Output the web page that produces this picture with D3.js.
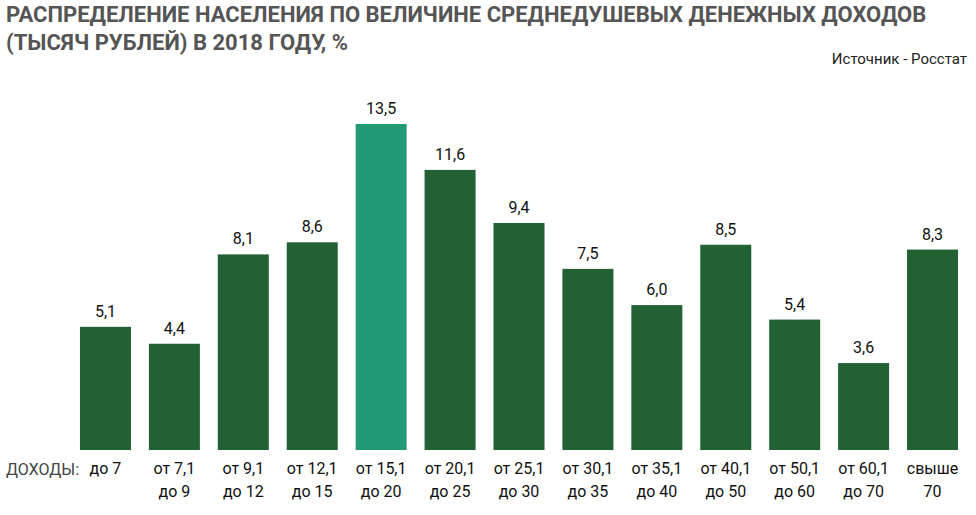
<!DOCTYPE html>
<html>
<head>
<meta charset="utf-8">
<script src="https://cdn.jsdelivr.net/npm/d3@7"></script>
<style>
body { margin: 0; background: #fff; }
text { font-family: "Liberation Sans Narrow", "Roboto", sans-serif; }
</style>
</head>
<body>
<div id="chart"></div>
<script>
var svgWidth = 976;
var svgHeight = 515;

// Data
var line1 = ["до 7", "от 7,1", "от 9,1", "от 12,1", "от 15,1", "от 20,1", "от 25,1", "от 30,1", "от 35,1", "от 40,1", "от 50,1", "от 60,1", "свыше"];
var line2 = ["", "до 9", "до 12", "до 15", "до 20", "до 25", "до 30", "до 35", "до 40", "до 50", "до 60", "до 70", "70"];
var values = [5.1, 4.4, 8.1, 8.6, 13.5, 11.6, 9.4, 7.5, 6.0, 8.5, 5.4, 3.6, 8.3];
var highlight = 4;

var svg = d3.select("#chart")
    .append("svg")
    .attr("width", svgWidth)
    .attr("height", svgHeight);

// Title
svg.append("text").attr("x", 6).attr("y", 22)
    .style("font-size", "22px").style("font-weight", "bold").attr("fill", "#555")
    .text("РАСПРЕДЕЛЕНИЕ НАСЕЛЕНИЯ ПО ВЕЛИЧИНЕ СРЕДНЕДУШЕВЫХ ДЕНЕЖНЫХ ДОХОДОВ");
svg.append("text").attr("x", 6).attr("y", 50)
    .style("font-size", "22px").style("font-weight", "bold").attr("fill", "#555")
    .text("(ТЫСЯЧ РУБЛЕЙ) В 2018 ГОДУ, %");
svg.append("text").attr("x", 967).attr("y", 64)
    .attr("text-anchor", "end").style("font-size", "15px").attr("fill", "#222")
    .text("Источник - Росстат");

var x = d3.scaleBand()
    .domain(d3.range(values.length))
    .range([71, 967])
    .paddingInner(0.26)
    .paddingOuter(0.13);

var y = d3.scaleLinear()
    .domain([0, 13.5])
    .range([450, 124]);

svg.selectAll("rect.bar")
    .data(values)
    .enter()
    .append("rect")
    .attr("class", "bar")
    .attr("x", (d, i) => x(i))
    .attr("y", d => y(d))
    .attr("width", x.bandwidth())
    .attr("height", d => y(0) - y(d))
    .attr("fill", (d, i) => i === highlight ? "#229a74" : "#216133");

svg.selectAll("text.val")
    .data(values)
    .enter()
    .append("text")
    .attr("class", "val")
    .attr("x", (d, i) => x(i) + x.bandwidth() / 2)
    .attr("y", d => y(d) - 10)
    .attr("text-anchor", "middle")
    .style("font-size", "16px")
    .attr("fill", "#111")
    .text(d => d.toFixed(1).replace(".", ","));

svg.selectAll("text.l1")
    .data(line1)
    .enter()
    .append("text")
    .attr("class", "l1")
    .attr("x", (d, i) => x(i) + x.bandwidth() / 2)
    .attr("y", 474)
    .attr("text-anchor", "middle")
    .style("font-size", "16px")
    .attr("fill", "#111")
    .text(d => d);

svg.selectAll("text.l2")
    .data(line2)
    .enter()
    .append("text")
    .attr("class", "l2")
    .attr("x", (d, i) => x(i) + x.bandwidth() / 2)
    .attr("y", 497)
    .attr("text-anchor", "middle")
    .style("font-size", "16px")
    .attr("fill", "#111")
    .text(d => d);

svg.append("text").attr("x", 6).attr("y", 475)
    .style("font-size", "16px").attr("fill", "#444")
    .text("ДОХОДЫ:");
</script>
</body>
</html>
